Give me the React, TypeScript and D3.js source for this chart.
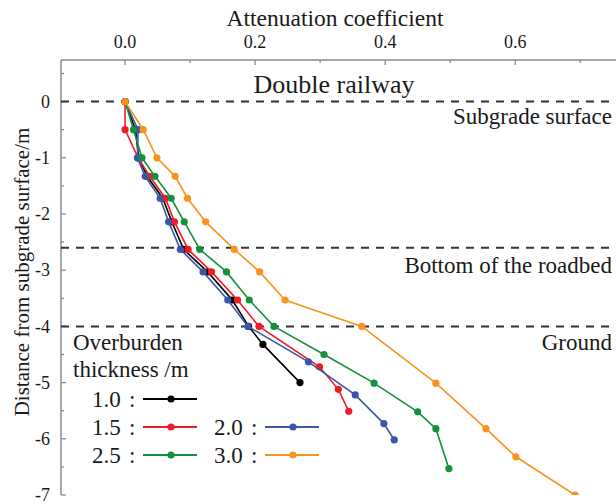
import React from "react";
import * as d3 from "d3";

// Depth (m, negative downward) and attenuation coefficient for each overburden thickness
const depth10 = [0, -0.5, -1.0, -1.33, -1.72, -2.14, -2.63, -3.03, -3.53, -4.0, -4.32, -5.0];
const coef10 = [0, 0.016, 0.021, 0.034, 0.058, 0.072, 0.09, 0.127, 0.165, 0.19, 0.212, 0.269];

const depth15 = [0, -0.5, -1.0, -1.33, -1.72, -2.14, -2.63, -3.03, -3.53, -4.0, -4.72, -5.12, -5.51];
const coef15 = [0, 0.0, 0.02, 0.038, 0.062, 0.076, 0.097, 0.133, 0.173, 0.206, 0.299, 0.328, 0.344];

const depth20 = [0, -0.5, -1.0, -1.33, -1.72, -2.14, -2.63, -3.03, -3.53, -4.0, -4.63, -5.22, -5.73, -6.02];
const coef20 = [0, 0.02, 0.019, 0.031, 0.054, 0.067, 0.085, 0.12, 0.158, 0.189, 0.282, 0.354, 0.398, 0.414];

const depth25 = [0, -0.5, -1.0, -1.33, -1.72, -2.14, -2.63, -3.03, -3.53, -4.0, -4.5, -5.01, -5.52, -5.82, -6.53];
const coef25 = [0, 0.013, 0.026, 0.046, 0.071, 0.091, 0.115, 0.156, 0.191, 0.229, 0.306, 0.383, 0.45, 0.478, 0.498];

const depth30 = [0, -0.5, -1.0, -1.33, -1.72, -2.14, -2.63, -3.03, -3.53, -4.0, -5.01, -5.82, -6.32, -7.0];
const coef30 = [0, 0.028, 0.049, 0.077, 0.096, 0.124, 0.168, 0.207, 0.246, 0.364, 0.478, 0.555, 0.601, 0.692];

const seriesNames = ["1.0", "1.5", "2.0", "2.5", "3.0"];
const seriesColors = ["#000000", "#ee1c25", "#3b55a8", "#15903f", "#f7931e"];

const layerDepths = [0, -2.6, -4.0];
const layerNames = ["Subgrade surface", "Bottom of the roadbed", "Ground"];

const xMajorTicks = [0, 0.2, 0.4, 0.6];
const xMinorTicks = [0.1, 0.3, 0.5, 0.7];
const yMajorTicks = [0, -1, -2, -3, -4, -5, -6, -7];
const yMinorTicks = [0.5, -0.5, -1.5, -2.5, -3.5, -4.5, -5.5, -6.5];

const FONT = '"Liberation Serif", "Times New Roman", Tinos, "DejaVu Serif", serif';

export default function App() {
  const W = 616;
  const H = 504;
  const left = 61;
  const right = 616;
  const top = 60;
  const bottom = 495;

  const x = d3.scaleLinear().domain([-0.0985, 0.755]).range([left, right]);
  const y = d3.scaleLinear().domain([0.74, -7]).range([top, bottom]);

  const series = [
    { depth: depth10, coef: coef10 },
    { depth: depth15, coef: coef15 },
    { depth: depth20, coef: coef20 },
    { depth: depth25, coef: coef25 },
    { depth: depth30, coef: coef30 },
  ].map((s, i) => ({
    name: seriesNames[i],
    color: seriesColors[i],
    points: s.depth.map((d, j) => [s.coef[j], d] as [number, number]),
  }));

  const line = d3
    .line<[number, number]>()
    .x((p) => x(p[0]))
    .y((p) => y(p[1]));

  const axisColor = "#8a8a8a";
  const ink = "#1a1a1a";
  const textStyle = { fontFamily: FONT };

  // Legend rows: [series index, column, row]
  const legendItems: [number, number, number][] = [
    [0, 0, 0],
    [1, 0, 1],
    [2, 1, 1],
    [3, 0, 2],
    [4, 1, 2],
  ];
  const colX = [92, 214];
  const rowY = [399, 427, 455];

  return (
    <svg
      width={W}
      height={H}
      style={{ position: "absolute", left: 0, top: 0, background: "#fff", fontFamily: FONT }}
    >
      <defs>
        <clipPath id="plotArea">
          <rect x={left} y={top} width={right - left} height={bottom - top} />
        </clipPath>
      </defs>

      {/* Top axis */}
      <text x={335} y={26} fontSize={23.5} textAnchor="middle" fill={ink} style={textStyle}>
        Attenuation coefficient
      </text>
      <line x1={left} x2={right} y1={top} y2={top} stroke={axisColor} strokeWidth={1.5} />
      {xMajorTicks.map((t) => (
        <g key={"xm" + t}>
          <line x1={x(t)} x2={x(t)} y1={top} y2={top + 5} stroke={axisColor} strokeWidth={1.3} />
          <text x={x(t)} y={48} fontSize={18} textAnchor="middle" fill={ink} style={textStyle}>
            {d3.format(".1f")(t)}
          </text>
        </g>
      ))}
      {xMinorTicks.map((t) => (
        <line key={"xn" + t} x1={x(t)} x2={x(t)} y1={top} y2={top + 3} stroke={axisColor} strokeWidth={1.3} />
      ))}

      {/* Left axis */}
      <line x1={left} x2={left} y1={top} y2={bottom} stroke={axisColor} strokeWidth={1.5} />
      {yMajorTicks.map((t) => (
        <g key={"ym" + t}>
          <line x1={left} x2={left + 5} y1={y(t)} y2={y(t)} stroke={axisColor} strokeWidth={1.3} />
          <text x={50} y={y(t)} dy="0.35em" fontSize={18} textAnchor="end" fill={ink} style={textStyle}>
            {t}
          </text>
        </g>
      ))}
      {yMinorTicks.map((t) => (
        <line key={"yn" + t} x1={left} x2={left + 3} y1={y(t)} y2={y(t)} stroke={axisColor} strokeWidth={1.3} />
      ))}
      <text
        transform={`translate(29, ${272}) rotate(-90)`}
        fontSize={21}
        textAnchor="middle"
        fill={ink}
        style={textStyle}
      >
        Distance from subgrade surface/m
      </text>

      {/* Layer boundaries */}
      {layerDepths.map((d) => (
        <line
          key={"layer" + d}
          x1={left}
          x2={right}
          y1={y(d)}
          y2={y(d)}
          stroke="#333"
          strokeWidth={2}
          strokeDasharray="8,7"
        />
      ))}
      <text x={334} y={93} fontSize={26} textAnchor="middle" fill={ink} style={textStyle}>
        Double railway
      </text>
      <text x={612} y={124} fontSize={23} textAnchor="end" fill={ink} style={textStyle}>
        {layerNames[0]}
      </text>
      <text x={612} y={273} fontSize={23} textAnchor="end" fill={ink} style={textStyle}>
        {layerNames[1]}
      </text>
      <text x={612} y={350} fontSize={23} textAnchor="end" fill={ink} style={textStyle}>
        {layerNames[2]}
      </text>

      {/* Series */}
      <g clipPath="url(#plotArea)">
        {series.map((s) => (
          <g key={s.name}>
            <path d={line(s.points) ?? ""} fill="none" stroke={s.color} strokeWidth={1.6} />
            {s.points.map((p, j) => (
              <circle key={j} cx={x(p[0])} cy={y(p[1])} r={3.6} fill={s.color} />
            ))}
          </g>
        ))}
      </g>

      {/* Legend */}
      <text x={73} y={350} fontSize={23} fill={ink} style={textStyle}>
        Overburden
      </text>
      <text x={73} y={377} fontSize={23} fill={ink} style={textStyle}>
        thickness /m
      </text>
      {legendItems.map(([i, c, r]) => {
        const lx = colX[c];
        const ly = rowY[r];
        return (
          <g key={"leg" + i}>
            <text x={lx} y={ly + 7.5} fontSize={23} fill={ink} style={textStyle}>
              {seriesNames[i]}
            </text>
            <text x={lx + 37} y={ly + 7.5} fontSize={23} fill={ink} style={textStyle}>
              :
            </text>
            <line x1={lx + 51} x2={lx + 105} y1={ly} y2={ly} stroke={seriesColors[i]} strokeWidth={1.8} />
            <circle cx={lx + 79} cy={ly} r={3.6} fill={seriesColors[i]} />
          </g>
        );
      })}
    </svg>
  );
}
